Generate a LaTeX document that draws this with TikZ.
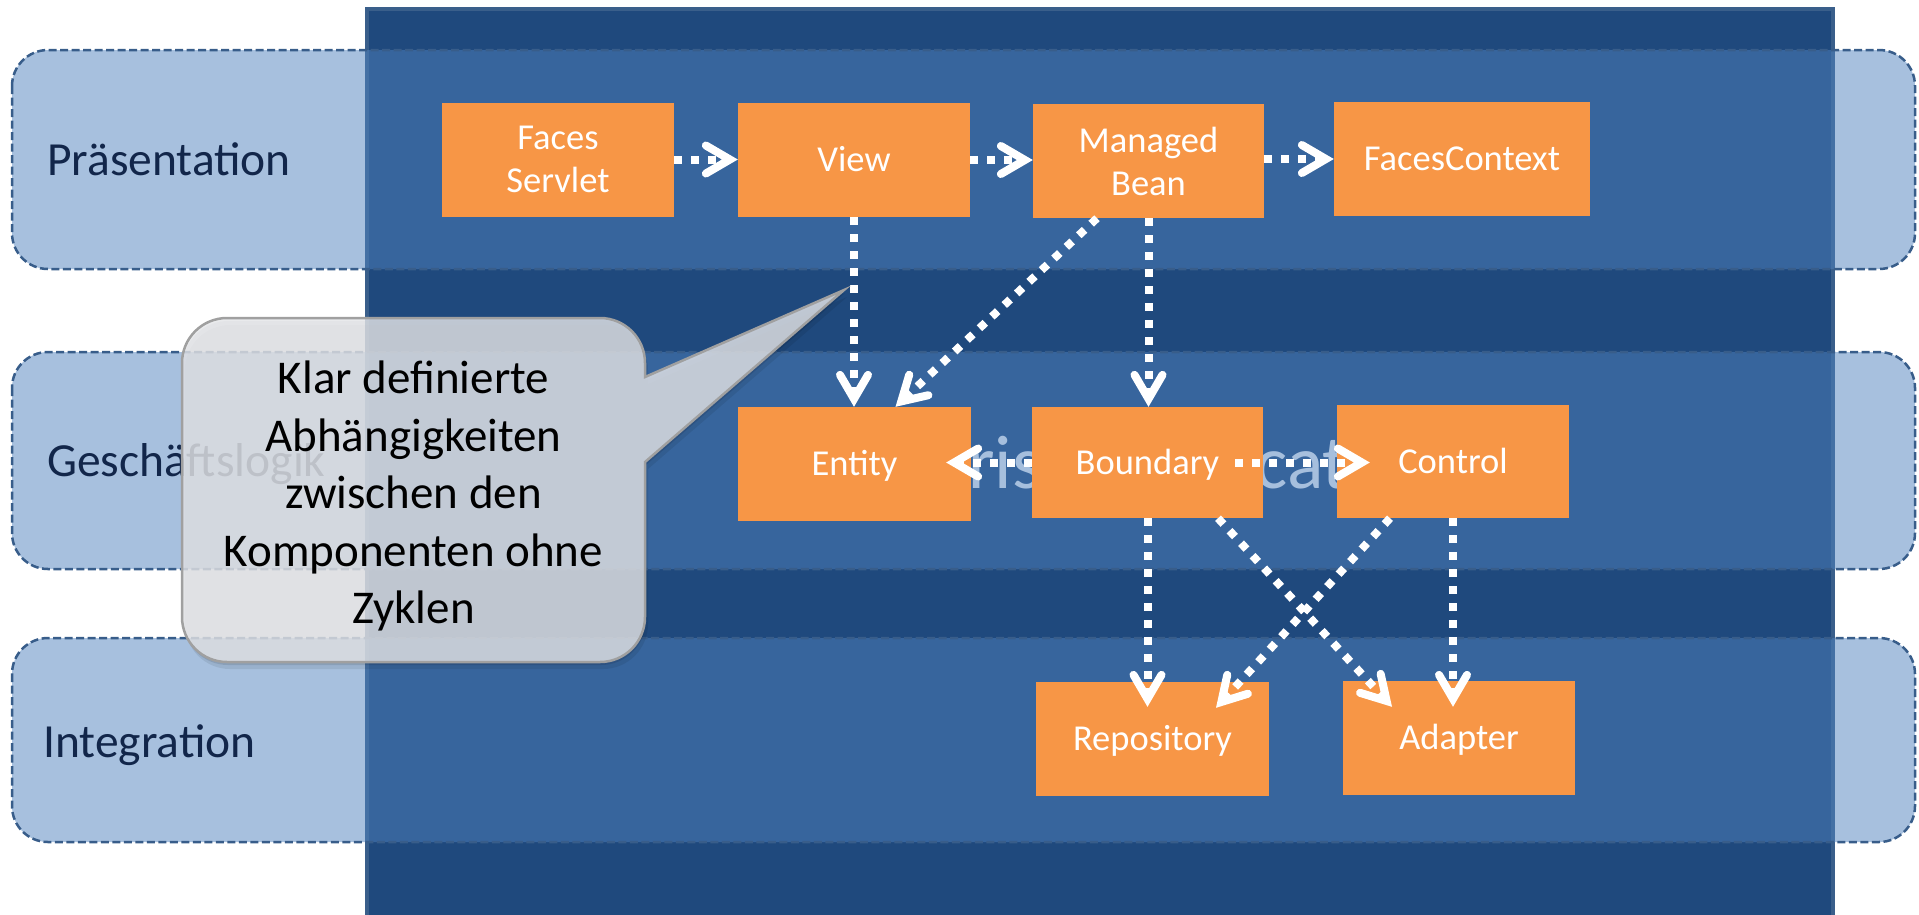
\documentclass[tikz,border=0pt]{standalone}
\usepackage{fontspec}
\setmainfont{Carlito}
\usetikzlibrary{arrows.meta,calc}

\definecolor{navy}{HTML}{1F497D}
\definecolor{navyedge}{HTML}{3A5F8B}
\definecolor{layerfill}{HTML}{4F81BD}
\definecolor{layeredge}{HTML}{385D8A}
\definecolor{labelcol}{HTML}{12264A}
\definecolor{compfill}{HTML}{F79646}
\definecolor{notefill}{HTML}{E4E5E8}
\definecolor{noteedge}{HTML}{A0A0A0}

\begin{document}
\begin{tikzpicture}[x=1pt,y=-1pt,
  layer/.style={fill=layerfill, fill opacity=0.5, draw=layeredge, line width=2.5pt,
    dash pattern=on 8pt off 3.5pt, rounded corners=36pt},
  layerlabel/.style={anchor=base west, inner sep=0pt, text=labelcol,
    font=\fontsize{47.5}{57}\selectfont},
  comp/.style={fill=compfill, text=white, minimum width=232pt, minimum height=114pt,
    inner sep=0pt, align=center, font=\fontsize{36.5}{43}\selectfont},
  oneline/.style={text height=23.5pt, text depth=0pt},
  dep/.style={draw=white, line width=8pt, dash pattern=on 8pt off 9pt,
    -{Straight Barb[length=24pt,width=28pt,line cap=round,line join=miter]}},
  notepath/.style={insert path={(227,318) -- (600,318) arc[start angle=-90, end angle=0, radius=45]
    -- (645,377) -- (844,290) -- (645,462) -- (645,617) arc[start angle=0, end angle=90, radius=45]
    -- (227,662) arc[start angle=90, end angle=180, radius=45]
    -- (182,363) arc[start angle=180, end angle=270, radius=45] -- cycle}},
  notetext/.style={align=center, inner sep=0pt, text=black, font=\fontsize{47}{57.5}\selectfont},
]
\useasboundingbox (0,0) rectangle (1919,914);

% application container
\draw[fill=navy, draw=navyedge, line width=4pt] (367,9) rectangle (1833,930);
\node[anchor=base west, inner sep=0pt, text=white, font=\fontsize{76}{90}\selectfont]
  (apptitle) at (763,488) {Enterprise Application};

% layers
\draw[layer] (12,50) rectangle (1915,269);
\draw[layer] (12,352) rectangle (1915,569);
\draw[layer] (12,638) rectangle (1915,842);
\node[layerlabel] (lp) at (47,175) {Präsentation};
\node[layerlabel] (lg) at (47,476) {Geschäftslogik};
\node[layerlabel] (li) at (43,757) {Integration};

% components
\node[comp] (fs) at (558,159.5) {Faces\\Servlet};
\node[comp, oneline] (view) at (854,160) {View};
\node[comp, minimum width=231pt] (mb) at (1148.5,161) {Managed\\Bean};
\node[comp, oneline, minimum width=256pt] (fc) at (1462,159) {FacesContext};
\node[comp, oneline, minimum width=233pt] (entity) at (854.5,464) {Entity};
\node[comp, oneline, minimum width=231pt, minimum height=111pt] (boundary) at (1147.5,462.5) {Boundary};
\node[comp, oneline, minimum height=113pt] (control) at (1453,461.5) {Control};
\node[comp, oneline, minimum width=233pt] (repo) at (1152.5,739) {Repository};
\node[comp, oneline] (adapter) at (1459,738) {Adapter};

% dependencies
\draw[dep] (fs.east) -- (fs.east -| view.west);
\draw[dep] (view.east) -- (view.east -| mb.west);
\draw[dep] (mb.east |- fc.west) -- (fc.west);
\draw[dep] (view.south) -- (view.south |- entity.north);
\draw[dep] ([xshift=-51.5pt]mb.south) -- ([xshift=41pt]entity.north);
\draw[dep] (mb.south) -- (mb.south |- boundary.north);
\draw[dep] (boundary.west) -- ([xshift=-25pt]boundary.west -| entity.east);
\draw[dep] ([xshift=-28pt]boundary.east) -- ([xshift=33pt]boundary.east -| control.west);
\draw[dep] (boundary.south) -- ([yshift=-25pt]boundary.south |- repo.north);
\draw[dep] ([xshift=70.5pt]boundary.south) -- ([xshift=-67pt,yshift=-26pt]adapter.north);
\draw[dep] ([xshift=-63pt]control.south) -- ([xshift=63.5pt,yshift=-26pt]repo.north);
\draw[dep] (control.south) -- ([yshift=-26pt]control.south |- adapter.north);

% callout
\fill[black, opacity=0.10, shift={(1,3)}, notepath];
\fill[black, opacity=0.08, shift={(3,7)}, notepath];
\path[fill=notefill, fill opacity=0.82, draw=noteedge, line width=2.5pt, notepath];
\node[notetext] (note) at (413.5,496) {Klar definierte\\Abhängigkeiten\\zwischen den\\Komponenten ohne\\Zyklen};
\end{tikzpicture}
\end{document}
